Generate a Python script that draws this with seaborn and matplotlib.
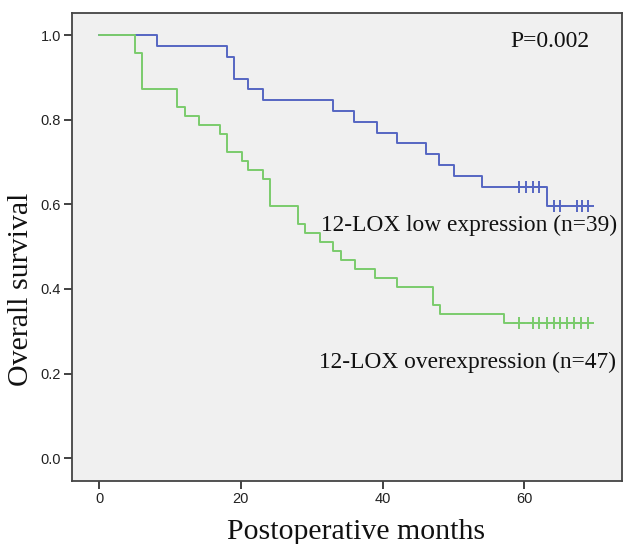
import matplotlib
matplotlib.use('Agg')
import matplotlib.pyplot as plt
import seaborn as sns
import pandas as pd

# Kaplan-Meier steps (time in months, survival after the event)
low_time = [0, 8.1, 18.0, 19.1, 21.0, 23.1, 33.0, 36.0, 39.2, 42.1, 46.1, 48.0, 50.1, 54.1, 63.2, 69.2]
low_surv = [1.0, 0.974, 0.949, 0.897, 0.872, 0.846, 0.821, 0.795, 0.769, 0.744, 0.718, 0.692, 0.667, 0.641, 0.596, 0.596]
low_cens_time = [59.2, 60.3, 61.3, 62.1, 64.2, 65.1, 67.4, 68.2, 69.0]
low_cens_surv = [0.641, 0.641, 0.641, 0.641, 0.596, 0.596, 0.596, 0.596, 0.596]

over_time = [0, 5.0, 6.1, 11.0, 12.1, 14.1, 17.0, 18.1, 20.1, 21.0, 23.1, 24.1, 28.1, 29.0, 31.1,
             33.0, 34.1, 36.1, 39.0, 42.0, 47.1, 48.1, 57.2, 69.3]
over_surv = [1.0, 0.957, 0.872, 0.830, 0.809, 0.787, 0.766, 0.723, 0.702, 0.681, 0.660, 0.596, 0.553, 0.532, 0.511,
             0.489, 0.468, 0.447, 0.426, 0.404, 0.362, 0.340, 0.319, 0.319]
over_cens_time = [59.2, 61.2, 62.1, 63.2, 64.2, 65.1, 66.1, 67.0, 68.0, 69.0]
over_cens_surv = [0.319] * 10

low_label = '12-LOX low expression (n=39)'
over_label = '12-LOX overexpression (n=47)'
p_text = 'P=0.002'

blue = '#5566c2'
green = '#7acb6c'

sns.set_style('ticks')
plt.rcParams['font.family'] = ['Liberation Sans', 'DejaVu Sans']

fig = plt.figure(figsize=(6.23, 5.44), dpi=100)
ax = fig.add_axes([0.116, 0.1158, 0.8824, 0.8609])
ax.set_facecolor('#f0f0f0')

low = pd.DataFrame({'t': low_time, 's': low_surv})
over = pd.DataFrame({'t': over_time, 's': over_surv})
sns.lineplot(data=low, x='t', y='s', drawstyle='steps-post', color=blue, linewidth=1.4, ax=ax)
sns.lineplot(data=over, x='t', y='s', drawstyle='steps-post', color=green, linewidth=1.4, ax=ax)
sns.scatterplot(x=low_cens_time, y=low_cens_surv, marker='+', s=70, linewidth=1.4, color=blue, ax=ax, zorder=3)
sns.scatterplot(x=over_cens_time, y=over_cens_surv, marker='+', s=70, linewidth=1.4, color=green, ax=ax, zorder=3)

ax.set_xlim(-3.8, 73.8)
ax.set_ylim(-0.054, 1.053)
ax.set_xticks([0, 20, 40, 60])
ax.set_yticks([0.0, 0.2, 0.4, 0.6, 0.8, 1.0])
ax.set_yticklabels(['0.0', '0.2', '0.4', '0.6', '0.8', '1.0'])

for side in ['left', 'bottom', 'top', 'right']:
    ax.spines[side].set_color('#444444')
    ax.spines[side].set_linewidth(1.3)
ax.tick_params(axis='both', direction='out', length=6, width=1.3, color='#333333',
               labelsize=10.5, labelcolor='#222222', pad=2)
ax.tick_params(top=False, right=False)

serif = ['Liberation Serif', 'DejaVu Serif']
ax.set_xlabel('Postoperative months', fontsize=21.5, family=serif, color='#111111')
ax.set_ylabel('Overall survival', fontsize=21.5, family=serif, color='#111111')
ax.xaxis.set_label_coords(0.516, -0.082, transform=ax.transAxes)
ax.yaxis.set_label_coords(-0.07, 0.41, transform=ax.transAxes)

ax.text(31.3, 0.538, low_label, fontsize=16.8, family=serif, ha='left', va='baseline', color='#111111')
ax.text(31.0, 0.214, over_label, fontsize=16.8, family=serif, ha='left', va='baseline', color='#111111')
ax.text(58.0, 0.971, p_text, fontsize=17, family=serif, ha='left', va='baseline', color='#111111')

fig.savefig('out.png', dpi=100, facecolor='white')
